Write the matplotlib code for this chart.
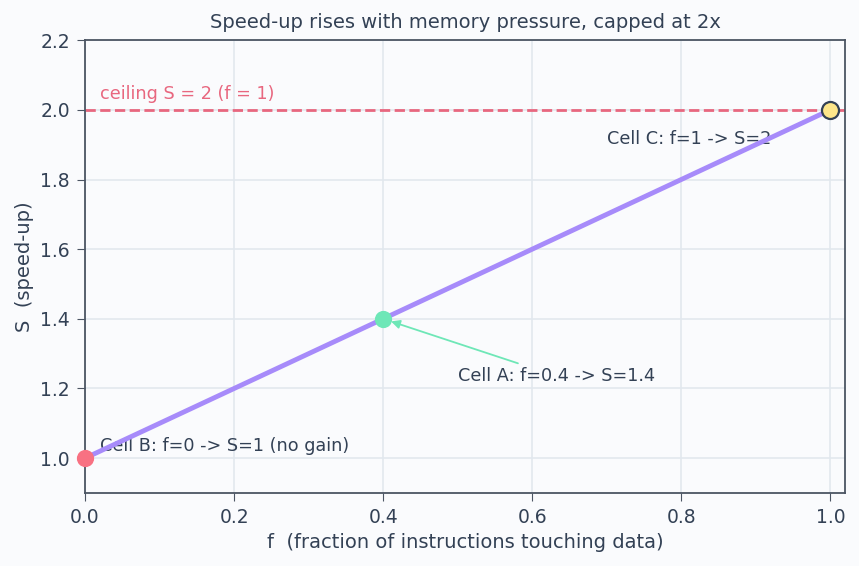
import matplotlib.pyplot as plt

# speed-up curve S = 1 + f
f_vals = [0.0, 0.2, 0.4, 0.6, 0.8, 1.0]
s_vals = [1.0, 1.2, 1.4, 1.6, 1.8, 2.0]

cell_names = ["B", "A", "C"]
cell_f = [0.0, 0.4, 1.0]
cell_s = [1.0, 1.4, 2.0]

ceiling = 2.0

text_col = "#334155"
bg = "#fafbfd"

fig, ax = plt.subplots(figsize=(8.59, 5.66), dpi=100)
fig.patch.set_facecolor(bg)
ax.set_facecolor(bg)
fig.subplots_adjust(left=0.099, right=0.984, top=0.929, bottom=0.129)

ax.grid(True, color="#e2e8ee", linewidth=1.2, zorder=0)
ax.set_axisbelow(True)

ax.axhline(ceiling, color="#e8677f", linestyle="--", linewidth=2.0, zorder=2)
ax.text(0.02, ceiling + 0.02, "ceiling S = 2 (f = 1)", color="#e8677f",
        fontsize=12.7, va="bottom", ha="left")

ax.plot(f_vals, s_vals, color="#a78bfa", linewidth=3.5, zorder=3, solid_capstyle="round")

# cells
ax.scatter([cell_f[0]], [cell_s[0]], s=130, color="#f87182", zorder=4, clip_on=False)
ax.scatter([cell_f[1]], [cell_s[1]], s=130, color="#6ee7b7", zorder=4)
ax.scatter([cell_f[2]], [cell_s[2]], s=150, color="#fde68a", edgecolors="#334155",
           linewidths=1.6, zorder=5, clip_on=False)

ax.text(0.02, 1.034, "Cell B: f=0 -> S=1 (no gain)", color=text_col, fontsize=12.7,
        va="center", ha="left", zorder=2.5)
ax.annotate("Cell A: f=0.4 -> S=1.4", xy=(cell_f[1], cell_s[1]), xytext=(0.5, 1.236),
            color=text_col, fontsize=12.7, va="center", ha="left",
            arrowprops=dict(arrowstyle="-|>", color="#6ee7b7", lw=1.3, shrinkB=6))
ax.text(0.7, 1.917, "Cell C: f=1 -> S=2", color=text_col, fontsize=12.7,
        va="center", ha="left", zorder=2.5)

ax.set_xlim(0, 1.02)
ax.set_ylim(0.9, 2.2)
ax.set_xticks([0.0, 0.2, 0.4, 0.6, 0.8, 1.0])
ax.set_yticks([1.0, 1.2, 1.4, 1.6, 1.8, 2.0, 2.2])

for sp in ax.spines.values():
    sp.set_color("#4b5563")
    sp.set_linewidth(1.3)
ax.tick_params(colors=text_col, labelsize=13.5, length=6, color="#4b5563", pad=5)

ax.set_xlabel("f  (fraction of instructions touching data)", color=text_col, fontsize=14)
ax.set_ylabel("S  (speed-up)", color=text_col, fontsize=14)
ax.set_title("Speed-up rises with memory pressure, capped at 2x", color=text_col,
             fontsize=14, pad=9)

fig.savefig("out.png", facecolor=bg)
